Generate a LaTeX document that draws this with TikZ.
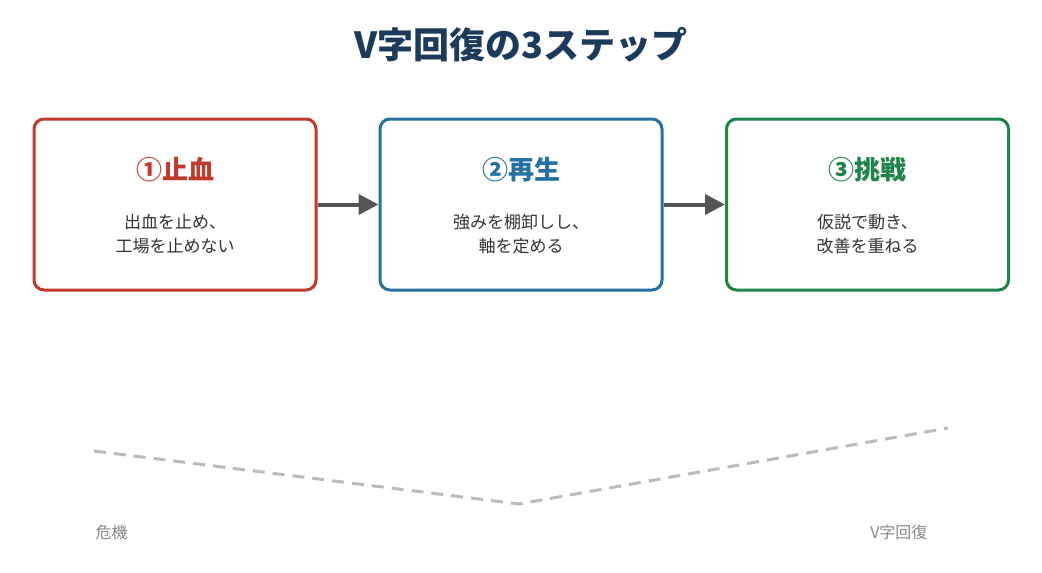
\documentclass[tikz,border=0pt]{standalone}
\usepackage{fontspec}
\setmainfont{Noto Sans CJK JP}
\usetikzlibrary{arrows.meta}
\definecolor{titlec}{HTML}{1B3A5C}
\definecolor{redc}{HTML}{C0392B}
\definecolor{bluec}{HTML}{2471A3}
\definecolor{greenc}{HTML}{1E8449}
\definecolor{bodyc}{HTML}{333333}
\definecolor{arrc}{HTML}{555555}
\definecolor{dashc}{HTML}{BBBBBB}
\definecolor{labc}{HTML}{888888}
\tikzset{
  stepbox/.style={draw, line width=3pt, rounded corners=10pt, minimum width=282pt, minimum height=171pt, fill=white},
  headtxt/.style={font=\fontsize{26}{30}\selectfont\bfseries},
  bodytxt/.style={font=\fontsize{17}{24}\selectfont, text=bodyc, align=center},
  flowarrow/.style={draw=arrc, line width=4pt, -{Triangle[length=20pt,width=20pt]}},
  vline/.style={draw=dashc, line width=3pt, dash pattern=on 12pt off 8pt},
  vlabel/.style={font=\fontsize{16}{20}\selectfont, text=labc}
}
\begin{document}
\begin{tikzpicture}[x=1pt,y=-1pt]
\useasboundingbox (0,0) rectangle (1042,573);
\node[font=\fontsize{36}{40}\selectfont\bfseries, text=titlec] (title) at (521,45) {V字回復の3ステップ};
\node[stepbox, draw=redc] (b1) at (175,204.5) {};
\node[stepbox, draw=bluec] (b2) at (521,204.5) {};
\node[stepbox, draw=greenc] (b3) at (867.5,204.5) {};
\node[headtxt, text=redc] (h1) at (175,170) {①止血};
\node[headtxt, text=bluec] (h2) at (521,170) {②再生};
\node[headtxt, text=greenc] (h3) at (867.5,170) {③挑戦};
\node[bodytxt] (t1) at (175,234) {出血を止め、\\工場を止めない};
\node[bodytxt] (t2) at (521,234) {強みを棚卸しし、\\軸を定める};
\node[bodytxt] (t3) at (867.5,234) {仮説で動き、\\改善を重ねる};
\draw[flowarrow] (b1.east) -- (b2.west);
\draw[flowarrow] (b2.east) -- (b3.west);
\coordinate (v1) at (94,451);
\coordinate (v2) at (519,504);
\coordinate (v3) at (948,428);
\draw[vline] (v1) -- (v2) -- (v3);
\node[vlabel, anchor=west] (l1) at (92,532) {危機};
\node[vlabel, anchor=east] (l2) at (931,532) {V字回復};
\end{tikzpicture}
\end{document}
